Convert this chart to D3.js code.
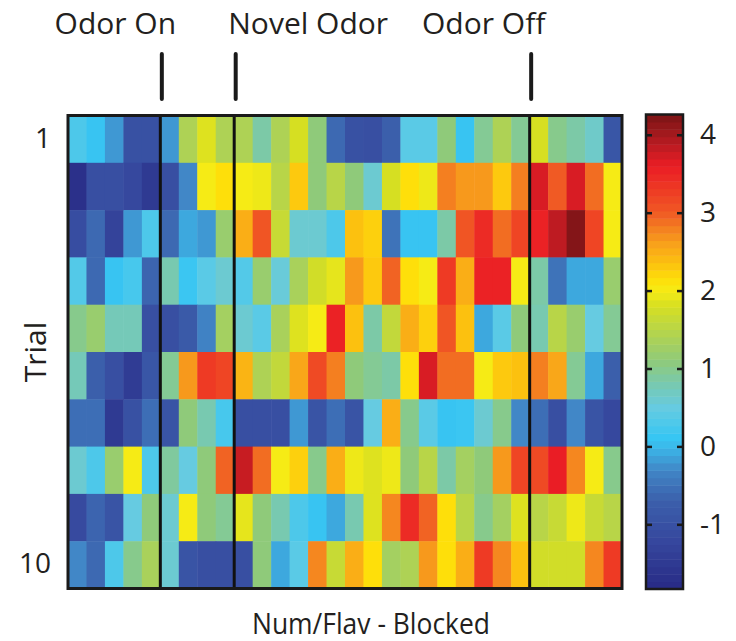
<!DOCTYPE html>
<html>
<head>
<meta charset="utf-8">
<script src="https://cdn.jsdelivr.net/npm/d3@7"></script>
<style>
  html, body { margin: 0; padding: 0; background: #fff; }
  svg { display: block; }
  text { font-family: "Open Sans", "Noto Sans", sans-serif; fill: #231f20; }
</style>
</head>
<body>
<svg id="chart" width="736" height="641"></svg>
<script>
// ---------------- data ----------------
const trials = [1, 2, 3, 4, 5, 6, 7, 8, 9, 10];
const trialTickValues = [1, 10];
const timeBins = d3.range(30);

const row1  = [0.3, 0.1, -0.2, -1.0, -1.0, -0.2, 1.4, 1.85, 1.4, 1.4, 0.85, 1.4, 1.8, 1.1, -0.6, -1.0, -1.05, -0.7, 0.4, 0.4, 1.1, 0.1, 0.95, 1.4, 0.95, 1.8, 1.0, 0.85, 0.65, -0.9];
const row2  = [-1.7, -1.05, -1.05, -1.2, -1.5, -1.05, -0.3, 2.0, 2.15, 2.0, 1.95, 1.5, 2.3, 1.1, 1.5, 1.1, 0.6, 1.8, 2.15, 1.95, 2.8, 2.65, 2.65, 2.3, 2.8, 3.7, 3.0, 3.7, 2.9, 2.0];
const row3  = [-1.1, -0.6, -1.3, -0.2, 0.3, -0.6, -0.1, -0.2, 1.2, 2.5, 3.05, 1.65, 0.6, 0.6, 0.3, 2.35, 2.25, -0.5, 0.1, 0.1, 0.85, 3.05, 3.45, 2.9, 3.2, 3.55, 3.85, 4.2, 3.2, 2.0];
const row4  = [0.35, -0.6, 0.1, 0.25, -0.65, 0.8, 0.15, 0.4, 0.6, 0.35, 1.2, 0.55, 1.35, 1.75, 1.9, 2.65, 2.3, 2.95, 2.15, 2.0, 3.3, 2.5, 3.55, 3.55, 2.0, 0.85, -0.5, -0.1, -0.1, 1.2];
const row5  = [1.0, 1.2, 0.75, 0.75, -1.05, -1.05, -0.8, -0.35, 1.3, 0.6, 0.4, 1.35, 1.85, 2.0, 3.55, 2.35, 0.85, 1.6, 2.5, 2.25, 3.05, 2.35, -0.1, 0.4, 1.1, 0.8, 1.5, 1.2, 0.5, 0.95];
const row6  = [0.75, -0.7, -1.05, -1.45, -0.9, 0.95, 2.65, 3.3, 3.2, 2.45, 1.4, 1.6, 2.55, 3.15, 2.8, 1.1, 0.95, 0.85, 2.15, 3.7, 2.9, 2.9, 2.0, 2.3, 2.35, 2.8, 2.55, 0.95, -0.1, -0.7];
const row7  = [-0.55, -0.55, -1.5, -1.0, -0.55, -0.95, 1.1, 0.8, 0.25, -1.05, -1.05, -1.05, -0.2, -0.95, -0.55, -0.95, 0.5, 2.5, 1.0, 0.4, 0.1, 0.15, 0.6, 1.0, -0.3, -0.55, -1.05, -0.3, -0.95, -1.2];
const row8  = [0.6, 0.3, 1.2, 2.0, 0.3, 0.9, 0.5, 1.1, 2.95, 3.8, 2.9, 2.0, 2.25, 1.0, 2.5, 1.95, 1.85, 1.95, 1.1, 1.5, 0.85, 1.3, 1.1, 2.65, 3.2, 3.15, 3.6, 2.75, 2.0, 1.0];
const row9  = [-1.15, -0.65, -0.95, 0.5, 1.1, 0.6, 2.0, 1.1, 0.95, 1.9, 1.1, 0.8, 0.3, 0.1, -0.1, 0.8, 1.85, 2.75, 3.45, 2.95, 2.15, 1.5, 1.0, 1.3, 1.85, 1.5, 1.65, 1.95, 1.65, 1.5];
const row10 = [-0.3, -0.6, 0.3, 1.0, 1.35, 0.6, -0.95, -1.05, -1.05, -1.05, 1.1, -0.1, 0.4, 2.75, 1.65, 2.5, 2.15, 1.3, 1.4, 2.65, 2.15, 2.5, 3.3, 2.75, 2.35, 1.75, 1.75, 1.75, 2.75, 3.3];
const trialValues = [row1, row2, row3, row4, row5, row6, row7, row8, row9, row10];

const eventLabels = ["Odor On", "Novel Odor", "Odor Off"];
const eventBins = [5, 9, 25];

const colorDomain = [-1.83, 4.26];
const colorTickValues = [-1, 0, 1, 2, 3, 4];

const xLabel = "Num/Flav - Blocked";
const yLabel = "Trial";

// colormap (print-style jet)
const stopValues = [-1.83, -1.2, -0.7, -0.3, 0.0, 0.12, 0.5, 0.8, 1.1, 1.5, 1.8, 2.0, 2.15, 2.35, 2.6, 2.8, 3.0, 3.3, 3.6, 3.9, 4.26];
const stopColors = ["#282a85", "#36489e", "#3b5fab", "#4187c7", "#3bb9ea", "#37c6f3", "#66cbe1", "#78c9b0", "#8fca7a", "#b8d548", "#d6df22", "#f6eb15", "#fedf0a", "#fcc10f", "#f8a11b", "#f47f20", "#f05a24", "#ee3a24", "#ea1d25", "#b51b21", "#7a1416"];

// ---------------- drawing ----------------
const svg = d3.select("#chart");
const color = d3.scaleLinear().domain(stopValues).range(stopColors).interpolate(d3.interpolateRgb).clamp(true);

const hm = { left: 68, right: 622, top: 115.5, bottom: 588.5 };
const x = d3.scaleBand().domain(timeBins).range([hm.left, hm.right]).padding(0);
const y = d3.scaleBand().domain(trials).range([hm.top, hm.bottom]).padding(0);
const xEdge = b => hm.left + b * x.step();

// cells
const cells = [];
trialValues.forEach((row, i) => row.forEach((v, j) => cells.push({ trial: trials[i], bin: timeBins[j], v })));
svg.append("g").selectAll("rect").data(cells).join("rect")
  .attr("x", d => x(d.bin))
  .attr("y", d => y(d.trial))
  .attr("width", x.bandwidth() + 0.5)
  .attr("height", y.bandwidth() + 0.5)
  .attr("fill", d => color(d.v));

// event separator lines in the heatmap
svg.append("g").selectAll("line").data(eventBins).join("line")
  .attr("x1", d => xEdge(d)).attr("x2", d => xEdge(d))
  .attr("y1", hm.top).attr("y2", hm.bottom)
  .attr("stroke", "#111").attr("stroke-width", 3);

// heatmap border
svg.append("rect")
  .attr("x", hm.left).attr("y", hm.top)
  .attr("width", hm.right - hm.left).attr("height", hm.bottom - hm.top)
  .attr("fill", "none").attr("stroke", "#1a1a1a").attr("stroke-width", 3);

// event markers + labels
svg.append("g").selectAll("line").data(eventBins).join("line")
  .attr("x1", d => xEdge(d) + 1.5).attr("x2", d => xEdge(d) + 1.5)
  .attr("y1", 54).attr("y2", 99)
  .attr("stroke", "#1a1a1a").attr("stroke-width", 4).attr("stroke-linecap", "round");

const labelCenterOffset = [-45, 74, -46];
svg.append("g").selectAll("text").data(eventLabels).join("text")
  .attr("x", (d, i) => xEdge(eventBins[i]) + labelCenterOffset[i])
  .attr("y", 34)
  .attr("text-anchor", "middle")
  .attr("font-size", 30)
  .text(d => d);

// trial axis
const yAxis = d3.axisLeft(y).tickValues(trialTickValues).tickSize(0).tickPadding(17);
const gy = svg.append("g").attr("transform", `translate(${hm.left},0)`).call(yAxis);
gy.select(".domain").remove();
gy.selectAll("text").attr("font-size", 28).attr("fill", "#231f20")
  .style("font-family", '"Open Sans", sans-serif').attr("dy", "0.3em");

svg.append("text")
  .attr("transform", `translate(46,352) rotate(-90)`)
  .attr("text-anchor", "middle").attr("font-size", 30)
  .text(yLabel);

svg.append("text")
  .attr("x", 371).attr("y", 634)
  .attr("text-anchor", "middle").attr("font-size", 29)
  .attr("textLength", 238).attr("lengthAdjust", "spacingAndGlyphs")
  .text(xLabel);

// colorbar
const cb = { left: 646, right: 683, top: 114.5, bottom: 589 };
const cy = d3.scaleLinear().domain(colorDomain).range([cb.bottom, cb.top]);
const nBands = 64;
const bandStep = (colorDomain[1] - colorDomain[0]) / nBands;
const bands = d3.range(nBands).map(i => colorDomain[0] + i * bandStep);
svg.append("g").selectAll("rect").data(bands).join("rect")
  .attr("x", cb.left).attr("width", cb.right - cb.left)
  .attr("y", d => cy(d + bandStep))
  .attr("height", d => cy(d) - cy(d + bandStep) + 0.5)
  .attr("fill", d => color(d + bandStep / 2));

svg.append("rect")
  .attr("x", cb.left).attr("y", cb.top)
  .attr("width", cb.right - cb.left).attr("height", cb.bottom - cb.top)
  .attr("fill", "none").attr("stroke", "#1a1a1a").attr("stroke-width", 2.5);

const cAxisR = d3.axisRight(cy).tickValues(colorTickValues).tickSizeInner(-6).tickSizeOuter(0)
  .tickPadding(17).tickFormat(d => d < 0 ? "-" + Math.abs(d) : String(d));
const gcr = svg.append("g").attr("transform", `translate(${cb.right},0)`).call(cAxisR);
gcr.select(".domain").remove();
gcr.selectAll("line").attr("stroke", "#1a1a1a").attr("stroke-width", 2.5);
gcr.selectAll("text").attr("font-size", 28).attr("fill", "#231f20")
  .style("font-family", '"Open Sans", sans-serif');

const cAxisL = d3.axisLeft(cy).tickValues(colorTickValues).tickSizeInner(-6).tickSizeOuter(0).tickFormat("");
const gcl = svg.append("g").attr("transform", `translate(${cb.left},0)`).call(cAxisL);
gcl.select(".domain").remove();
gcl.selectAll("line").attr("stroke", "#1a1a1a").attr("stroke-width", 2.5);
</script>
</body>
</html>
